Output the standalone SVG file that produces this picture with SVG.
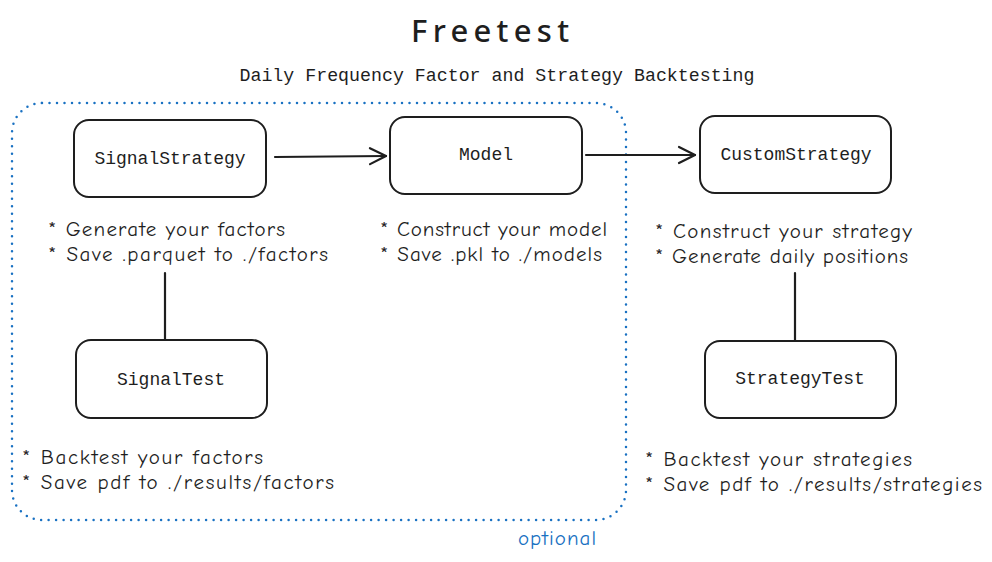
<svg xmlns="http://www.w3.org/2000/svg" width="992" height="562" viewBox="0 0 992 562">
<defs>
<style>
.box{fill:#fff;stroke:#1e1e1e;stroke-width:2}
.lbl{font-family:"Liberation Mono","DejaVu Sans Mono",monospace;font-size:18px;fill:#1e1e1e;text-anchor:middle}
.hand{font-family:"Comic Neue","Noto Sans","Liberation Sans",sans-serif;font-size:21px;fill:#1e1e1e}
.edge{fill:none;stroke:#1e1e1e;stroke-width:2.2;stroke-linecap:round;stroke-linejoin:round}
</style>
<marker id="arr" viewBox="0 0 20 20" refX="18" refY="10" markerWidth="20" markerHeight="20" markerUnits="userSpaceOnUse" orient="auto">
<path d="M2 2 L18 10 L2 18" fill="none" stroke="#1e1e1e" stroke-width="2.2" stroke-linecap="round" stroke-linejoin="round"/>
</marker>
</defs>
<rect width="992" height="562" fill="#fff"/>
<g id="title">
<text x="490" y="42" font-family="Noto Sans,DejaVu Sans,sans-serif" font-size="31" font-weight="500" fill="#1e1e1e" text-anchor="middle" textLength="158" lengthAdjust="spacing">Freetest</text>
<text x="497" y="81" font-family="Liberation Mono,DejaVu Sans Mono,monospace" font-size="18" fill="#1e1e1e" text-anchor="middle" textLength="515" lengthAdjust="spacingAndGlyphs">Daily Frequency Factor and Strategy Backtesting</text>
</g>
<g id="optional-group">
<rect x="12" y="103" width="614" height="417" rx="30" fill="none" stroke="#1971c2" stroke-width="2.5" stroke-linecap="round" stroke-dasharray="0 7.5"/>
<text x="557" y="545" font-family="Comic Neue,Noto Sans,Liberation Sans,sans-serif" font-size="21" fill="#1971c2" text-anchor="middle" textLength="78" lengthAdjust="spacing">optional</text>
</g>
<g id="connectors">
<path class="edge" d="M275 157 L386 156" marker-end="url(#arr)"/>
<path class="edge" d="M586 155 L695 155" marker-end="url(#arr)"/>
<path class="edge" d="M165 273 L165 340"/>
<path class="edge" d="M795 273 L795 341"/>
</g>
<g id="SignalStrategy">
<rect class="box" x="74" y="120" width="192" height="77" rx="15"/>
<text class="lbl" x="170" y="164">SignalStrategy</text>
<text class="hand" x="48" y="236" textLength="237" lengthAdjust="spacing">* Generate your factors</text>
<text class="hand" x="48" y="261" textLength="280" lengthAdjust="spacing">* Save .parquet to ./factors</text>
</g>
<g id="Model">
<rect class="box" x="390" y="117" width="192" height="77" rx="15"/>
<text class="lbl" x="486" y="160">Model</text>
<text class="hand" x="380" y="236" textLength="227" lengthAdjust="spacing">* Construct your model</text>
<text class="hand" x="380" y="261" textLength="222" lengthAdjust="spacing">* Save .pkl to ./models</text>
</g>
<g id="CustomStrategy">
<rect class="box" x="700" y="116" width="191" height="77" rx="15"/>
<text class="lbl" x="796" y="160">CustomStrategy</text>
<text class="hand" x="655" y="238" textLength="257" lengthAdjust="spacing">* Construct your strategy</text>
<text class="hand" x="655" y="263" textLength="253" lengthAdjust="spacing">* Generate daily positions</text>
</g>
<g id="SignalTest">
<rect class="box" x="76" y="340" width="191" height="78" rx="15"/>
<text class="lbl" x="171" y="385">SignalTest</text>
<text class="hand" x="22" y="464" textLength="241" lengthAdjust="spacing">* Backtest your factors</text>
<text class="hand" x="22" y="489" textLength="312" lengthAdjust="spacing">* Save pdf to ./results/factors</text>
</g>
<g id="StrategyTest">
<rect class="box" x="705" y="341" width="191" height="77" rx="15"/>
<text class="lbl" x="800" y="384">StrategyTest</text>
<text class="hand" x="645" y="466" textLength="267" lengthAdjust="spacing">* Backtest your strategies</text>
<text class="hand" x="645" y="491" textLength="337" lengthAdjust="spacing">* Save pdf to ./results/strategies</text>
</g>
</svg>
